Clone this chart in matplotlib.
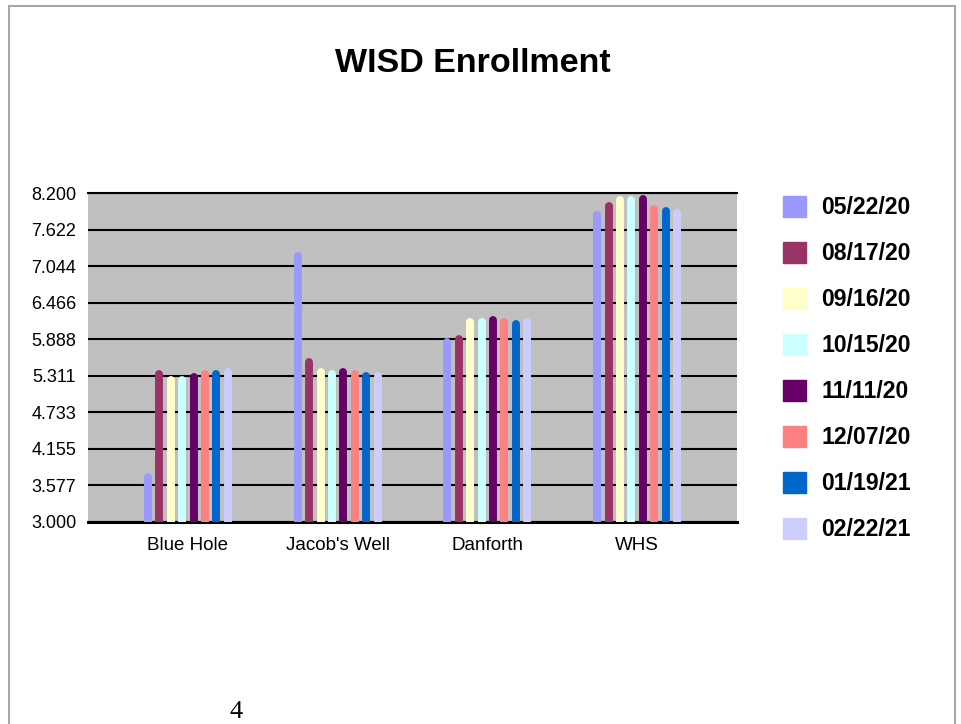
import numpy as np
import matplotlib
matplotlib.use("Agg")
import matplotlib.pyplot as plt
from matplotlib.patches import Patch, Rectangle

plt.rcParams['font.family'] = ['Liberation Sans', 'DejaVu Sans']

# datos
schools = ["Blue Hole", "Jacob's Well", "Danforth", "WHS"]
dates = ["05/22/20", "08/17/20", "09/16/20", "10/15/20",
         "11/11/20", "12/07/20", "01/19/21", "02/22/21"]
colors = ["#9999ff", "#993366", "#ffffcc", "#ccffff",
          "#660066", "#ff8080", "#0066cc", "#ccccff"]

blue_hole = [3.71, 5.34, 5.25, 5.25, 5.29, 5.34, 5.34, 5.37]
jacobs_well = [7.21, 5.53, 5.37, 5.34, 5.37, 5.34, 5.31, 5.31]
danforth = [5.85, 5.89, 6.16, 6.16, 6.19, 6.16, 6.13, 6.16]
whs = [7.85, 8.00, 8.09, 8.09, 8.10, 7.94, 7.91, 7.88]

y_ticks = [3.000, 3.577, 4.155, 4.733, 5.311, 5.888, 6.466, 7.044, 7.622, 8.200]
y_labels = ["3.000", "3.577", "4.155", "4.733", "5.311",
            "5.888", "6.466", "7.044", "7.622", "8.200"]

values = np.array([blue_hole, jacobs_well, danforth, whs])

fig = plt.figure(figsize=(9.61, 7.24), dpi=100)
ax = fig.add_axes([88/961, 1-522/724, (737-88)/961, (522-193)/724])
ax.set_facecolor("#c0c0c0")

x = np.arange(len(schools))
paso = 0.0762
for i, (d, c) in enumerate(zip(dates, colors)):
    xs = x + (i - 3.5) * paso
    lc = ax.vlines(xs, 2.5, values[:, i], colors=c, linewidth=5.7, zorder=3)
    lc.set_capstyle('round')

ax.set_xlim(-0.667, 3.667)
ax.set_ylim(3.0, 8.2)
ax.set_yticks(y_ticks)
ax.set_yticklabels(y_labels, fontsize=13)
ax.set_xticks(x)
ax.set_xticklabels(schools, fontsize=13.5)
ax.tick_params(axis='both', length=0)
ax.tick_params(axis='y', pad=8.5)
ax.tick_params(axis='x', pad=11)

ax.grid(True, axis='y', color='black', linewidth=1.5, zorder=1)
ax.set_axisbelow(True)
for s in ['left', 'right']:
    ax.spines[s].set_visible(False)
ax.spines['bottom'].set_linewidth(2.2)
ax.spines['top'].set_linewidth(1.5)

fig.text(473/961, 1-64/724, "WISD Enrollment", ha='center', va='center',
         fontsize=24.5, fontweight='bold')

handles = [Patch(facecolor=c, edgecolor=c) for c in colors]
ax.legend(handles, dates, loc='upper left', bbox_to_anchor=(783/961, 1-196/724),
          bbox_transform=fig.transFigure, frameon=False, borderpad=0,
          handlelength=1.0, handleheight=1.0, handletextpad=0.65,
          labelspacing=0.99, borderaxespad=0,
          prop={'weight': 'bold', 'size': 16.6})

# borde de pagina
fig.patches.append(Rectangle((9/961, -0.1), (955-9)/961, 1.1 - 6/724,
                             transform=fig.transFigure, fill=False,
                             edgecolor='#a8a8a8', linewidth=1.5))
fig.text(236/961, 1-723/724, "4", va='bottom', ha='center', fontsize=19,
         family='Liberation Serif')

fig.savefig("out.png", dpi=100)
